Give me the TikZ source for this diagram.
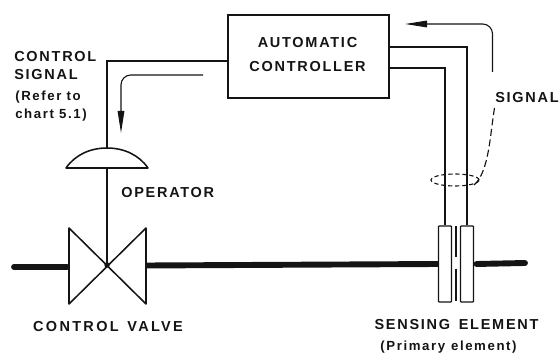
\documentclass[tikz,border=0pt]{standalone}
\usepackage{fontspec}
\usepackage{xcolor}
\usepackage{tikz}
\usetikzlibrary{arrows.meta, positioning, calc}
\newfontfamily\lblfont[LetterSpace=12]{Liberation Sans}
\newfontfamily\lblwide[LetterSpace=16]{Liberation Sans}
\definecolor{InkBlack}{RGB}{20, 20, 20}

\begin{document}
\begin{tikzpicture}[
        x=0.025cm, y=-0.025cm,
        >=stealth,
        caption/.style={font=\lblfont\bfseries\fontsize{10.3}{12}\selectfont, text=InkBlack, inner sep=0pt},
        widecaption/.style={font=\lblwide\bfseries\fontsize{10.3}{12}\selectfont, text=InkBlack, inner sep=0pt},
        note/.style={font=\lblfont\bfseries\fontsize{9.4}{11}\selectfont, text=InkBlack, inner sep=0pt},
        wire/.style={draw=InkBlack, line width=1.1pt},
        pipe/.style={draw=InkBlack, line width=4.2pt},
        plate/.style={draw=InkBlack, line width=0.9pt, fill=white, rounded corners=0.5pt, minimum width=0.32cm, minimum height=1.9cm, inner sep=0pt},
        signal/.style={draw=InkBlack, line width=0.8pt, rounded corners=7pt, -{Stealth[length=0.55cm, width=0.165cm, inset=0pt]}},
        tap/.style={draw=InkBlack, line width=0.8pt}
    ]
    \useasboundingbox (0,0) rectangle (560,354);

    % Regler
    \node[draw=InkBlack, line width=1.4pt, minimum width=4.02cm, minimum height=2.07cm, inner sep=0pt] (ctrl) at (308.5,56.5) {};
    \node[caption] (auto) at (307.5,43) {AUTOMATIC};
    \node[caption, below=0.32cm of auto] (ctrl text) {CONTROLLER};

    % Rohrleitung
    \coordinate (pipeL) at (14,267);
    \coordinate (pipeR) at (525,263);
    \coordinate (hub) at (107,265);
    \node[plate] (plateL) at (445,264) {};
    \node[plate] (plateR) at (467,264) {};

    \draw[pipe, line cap=round] (pipeL) -- (67,267);
    \draw[pipe] (146,265.5) -- (plateL.west);
    \draw[pipe, line cap=round] ($(plateR.east)+(2.5,0)$) -- (pipeR);

    % Blende
    \draw[draw=InkBlack, line width=1.6pt] (456,226) -- (456,257);
    \draw[draw=InkBlack, line width=1.6pt] (456,269) -- (456,301);

    % Ventil
    \draw[wire, line join=round] (69,228) -- (146,304) -- (146,228) -- (69,304) -- cycle;
    \fill[InkBlack] (hub) circle (1.9pt);

    % Antrieb
    \coordinate (domeT) at (107,148);
    \coordinate (domeB) at (107,168);
    \draw[wire, line join=round] (66,168) .. controls (75,155) and (90,148) .. (domeT)
        .. controls (124,148) and (139,155) .. (148,168) -- cycle;
    \draw[wire] (domeB) -- (hub);

    % Leitungen am Regler
    \draw[wire] (ctrl.west |- 0,61) -| (domeT);
    \draw[wire] (ctrl.east |- 0,47) -| (plateR.north);
    \draw[wire] (ctrl.east |- 0,68) -| (plateL.north);

    % Signalpfeile
    \coordinate (sigA) at (203,75);
    \coordinate (sigB) at (121,133);
    \coordinate (sigC) at (492.5,72);
    \coordinate (sigD) at (405,24);
    \draw[signal] (sigA) -| (sigB);
    \draw[signal] (sigC) |- (sigD);

    % Abgriff
    \draw[tap, dash pattern=on 3pt off 2pt] (455,180) ellipse (0.6cm and 0.15cm);
    \coordinate (tapEnd) at (474,185);
    \coordinate (tapTop) at (494.5,108);
    \draw[tap, dash pattern=on 5pt off 2.5pt] (tapTop) .. controls (490,135) and (489,172) .. (tapEnd);

    % Beschriftung
    \node[caption, anchor=west] (ctrl sig) at (14,57) {CONTROL};
    \node[caption, anchor=west] (sig left) at (14,74.5) {SIGNAL};
    \node[note, anchor=west] (refer) at (15,97.5) {(Refer to};
    \node[note, anchor=west] (chart) at (15,115) {chart 5.1)};
    \node[caption, anchor=west] (sig right) at (495,97.5) {SIGNAL};
    \node[caption, anchor=west] (oper) at (121,193) {OPERATOR};
    \node[widecaption] (valve) at (108,327) {CONTROL\hspace{0.6em}VALVE};
    \node[caption] (sens) at (456.5,325) {SENSING\hspace{0.6em}ELEMENT};
    \node[note] (prim) at (448.5,347) {(Primary\hspace{0.45em}element)};

\end{tikzpicture}
\end{document}
